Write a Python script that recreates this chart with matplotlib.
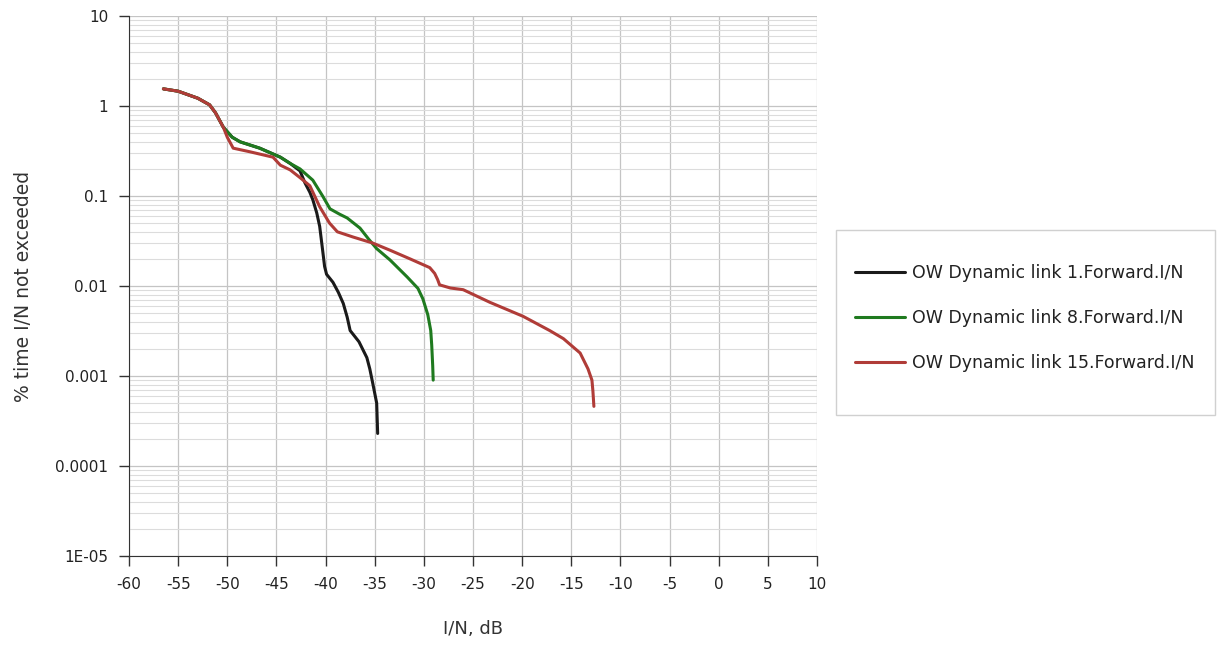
import matplotlib
matplotlib.use('Agg')
import matplotlib.pyplot as plt
from matplotlib.patches import Rectangle
from matplotlib.ticker import FixedLocator, FixedFormatter, LogLocator, NullFormatter
import numpy as np

plt.rcParams['axes.unicode_minus'] = False

# curve data (I/N in dB, % time)
link1_x = [-56.5, -55, -53, -51.8, -51.2, -50.4, -49.5, -48.7, -46.7, -44.6, -43.6, -42.6,
           -42.1, -41.6, -41.3, -40.9, -40.6, -40.3, -40.1, -39.9, -39.25, -38.7, -38.2,
           -37.8, -37.5, -36.6, -35.8, -35.5, -35.2, -34.8, -34.7]
link1_y = [1.55, 1.46, 1.22, 1.03, 0.84, 0.58, 0.45, 0.40, 0.34, 0.27, 0.23, 0.19,
           0.14, 0.11, 0.091, 0.065, 0.046, 0.025, 0.0165, 0.0135, 0.011, 0.0085, 0.0064,
           0.0045, 0.0032, 0.0024, 0.0016, 0.0012, 0.00083, 0.0005, 0.00023]

link8_x = [-56.5, -55, -53, -51.8, -51.2, -50.4, -49.5, -48.7, -46.7, -44.6, -43.6, -42.6,
           -41.3, -40.3, -39.55, -38.6, -37.8, -36.5, -35.6, -34.8, -33.45, -31.7, -30.6,
           -30.1, -29.6, -29.3, -29.2, -29.1, -29.05]
link8_y = [1.55, 1.46, 1.22, 1.03, 0.84, 0.58, 0.45, 0.40, 0.34, 0.27, 0.23, 0.20,
           0.15, 0.10, 0.072, 0.063, 0.057, 0.044, 0.033, 0.026, 0.0195, 0.0126, 0.0094,
           0.0072, 0.0048, 0.0032, 0.0022, 0.0013, 0.0009]

link15_x = [-56.5, -55, -53, -51.8, -51.2, -50.4, -50.0, -49.4, -47.7, -45.35, -44.6, -43.6,
            -42.6, -41.6, -40.6, -39.6, -38.8, -37.2, -35.2, -33.45, -31.4, -29.4, -28.9,
            -28.6, -28.4, -27.3, -26.0, -23.3, -19.9, -17.2, -15.8, -14.1, -13.3, -12.9,
            -12.8, -12.7]
link15_y = [1.55, 1.46, 1.22, 1.03, 0.84, 0.58, 0.45, 0.34, 0.31, 0.27, 0.22, 0.195,
            0.16, 0.13, 0.076, 0.05, 0.040, 0.035, 0.030, 0.025, 0.020, 0.016, 0.0138,
            0.0118, 0.0103, 0.0095, 0.0091, 0.0066, 0.0046, 0.0032, 0.0026, 0.0018, 0.0012,
            0.0009, 0.00068, 0.00046]

labels = ['OW Dynamic link 1.Forward.I/N',
          'OW Dynamic link 8.Forward.I/N',
          'OW Dynamic link 15.Forward.I/N']
colors = ['#1a1a1a', '#1f7a1f', '#b03c38']

x_ticks = list(range(-60, 11, 5))
y_ticks = [1e-5, 1e-4, 1e-3, 1e-2, 1e-1, 1, 10]
y_tick_labels = ['1E-05', '0.0001', '0.001', '0.01', '0.1', '1', '10']

fig = plt.figure(figsize=(12.19, 6.49), dpi=100)
ax = fig.add_axes([129/1219, 1 - 556/649, (817-129)/1219, (556-16)/649])

for xs, ys, c, lab in zip([link1_x, link8_x, link15_x], [link1_y, link8_y, link15_y], colors, labels):
    ax.plot(xs, ys, color=c, linewidth=2.2, label=lab, solid_capstyle='round',
            solid_joinstyle='round')

ax.set_yscale('log')
ax.set_xlim(-60, 10)
ax.set_ylim(1e-5, 10)
ax.xaxis.set_major_locator(FixedLocator(x_ticks))
ax.yaxis.set_major_locator(FixedLocator(y_ticks))
ax.yaxis.set_major_formatter(FixedFormatter(y_tick_labels))
ax.yaxis.set_minor_locator(LogLocator(base=10, subs=np.arange(2, 10)))
ax.yaxis.set_minor_formatter(NullFormatter())
ax.tick_params(axis='y', which='minor', length=0)
ax.tick_params(axis='both', which='major', length=7, width=1, color='#333333',
               labelsize=11, labelcolor='#222222', direction='out')
ax.tick_params(axis='x', which='major', pad=8)
ax.tick_params(axis='y', which='major', pad=8)

ax.grid(True, which='major', axis='both', color='#c4c4c4', linewidth=0.9)
ax.grid(True, which='minor', axis='y', color='#dcdcdc', linewidth=0.8)
ax.set_axisbelow(True)

ax.spines['top'].set_visible(False)
ax.spines['right'].set_visible(False)
ax.spines['left'].set_color('#333333')
ax.spines['bottom'].set_color('#333333')

ax.set_xlabel('I/N, dB', fontsize=13, color='#333333', labelpad=20)
ax.set_ylabel('% time I/N not exceeded', fontsize=13.5, color='#333333', labelpad=16)

# legend frame drawn by hand to match the reference box
fig.patches.append(Rectangle((836/1219, 1 - 415/649), (1215-836)/1219, (415-230)/649,
                             transform=fig.transFigure, facecolor='white',
                             edgecolor='#d0d0d0', linewidth=1.0))
fig.legend(loc='center left', bbox_to_anchor=(855/1219, 1 - 318/649),
           bbox_transform=fig.transFigure, frameon=False, fontsize=12.5,
           handlelength=2.9, handletextpad=0.4, labelspacing=1.55,
           borderpad=0, borderaxespad=0, labelcolor='#222222')

fig.savefig('out.png', dpi=100)
